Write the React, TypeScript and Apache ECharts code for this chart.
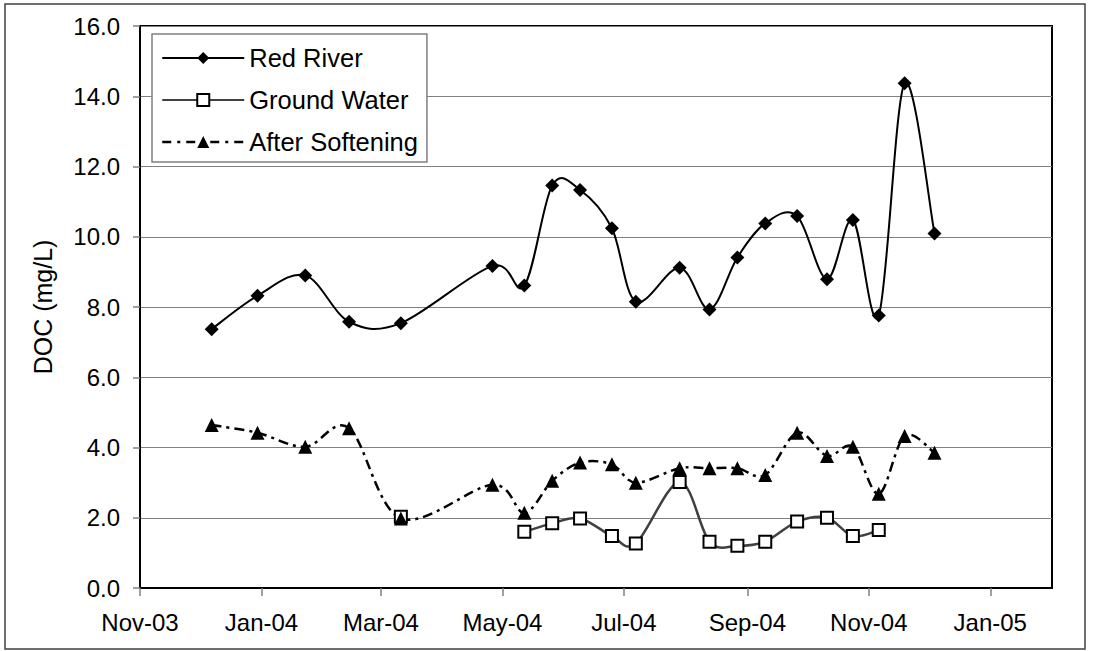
import React, { useEffect, useRef } from "react";
import * as echarts from "echarts";

// Sample dates
const sampleDates = [
  "2003-12-07", "2003-12-30", "2004-01-23", "2004-02-14", "2004-03-11",
  "2004-04-26", "2004-05-12", "2004-05-26", "2004-06-09", "2004-06-25",
  "2004-07-07", "2004-07-29", "2004-08-13", "2004-08-27", "2004-09-10",
  "2004-09-26", "2004-10-11", "2004-10-24", "2004-11-06", "2004-11-19",
  "2004-12-04",
];

const redRiver: (number | null)[] = [
  7.37, 8.32, 8.9, 7.58, 7.54, 9.17, 8.61, 11.46, 11.33, 10.24,
  8.15, 9.12, 7.93, 9.41, 10.38, 10.59, 8.79, 10.48, 7.76, 14.37, 10.09,
];

const groundWater: (number | null)[] = [
  null, null, null, null, 2.03, null, 1.6, 1.84, 1.98, 1.48,
  1.27, 3.02, 1.32, 1.2, 1.32, 1.89, 2.0, 1.48, 1.65, null, null,
];

const afterSoftening: (number | null)[] = [
  4.64, 4.42, 4.02, 4.55, 1.98, 2.94, 2.14, 3.05, 3.57, 3.52,
  3.0, 3.41, 3.41, 3.41, 3.22, 4.42, 3.76, 4.02, 2.68, 4.33, 3.85,
];

const xTickDates = [
  "2003-11-01", "2004-01-01", "2004-03-01", "2004-05-01",
  "2004-07-01", "2004-09-01", "2004-11-01", "2005-01-01",
];
const xMinDate = "2003-11-01";
const xMaxDate = "2005-02-01";

const yTicks = [0, 2, 4, 6, 8, 10, 12, 14, 16];

const monthNames = ["Jan", "Feb", "Mar", "Apr", "May", "Jun", "Jul", "Aug", "Sep", "Oct", "Nov", "Dec"];

const ts = (s: string) => {
  const [y, m, d] = s.split("-").map(Number);
  return Date.UTC(y, m - 1, d);
};

const FONT = "'Liberation Sans', Arial, sans-serif";

type Pt = [number, number];

// Excel-like smoothed curve (Catmull-Rom bezier) through pixel points, split at gaps
function smoothPath(runs: Pt[][]): string {
  let d = "";
  for (const p of runs) {
    if (p.length < 2) continue;
    d += `M${p[0][0]},${p[0][1]}`;
    for (let i = 0; i < p.length - 1; i++) {
      const p0 = p[i - 1] || p[i];
      const p1 = p[i];
      const p2 = p[i + 1];
      const p3 = p[i + 2] || p[i + 1];
      const c1x = p1[0] + (p2[0] - p0[0]) / 6;
      const c1y = p1[1] + (p2[1] - p0[1]) / 6;
      const c2x = p2[0] - (p3[0] - p1[0]) / 6;
      const c2y = p2[1] - (p3[1] - p1[1]) / 6;
      d += ` C${c1x},${c1y} ${c2x},${c2y} ${p2[0]},${p2[1]}`;
    }
  }
  return d;
}

export default function App() {
  const ref = useRef<HTMLDivElement>(null);

  useEffect(() => {
    if (!ref.current) return;
    const chart = echarts.init(ref.current, null, { renderer: "svg" });
    const pair = (vals: (number | null)[]) =>
      sampleDates.map((d, i) => [ts(d), vals[i] === null ? null : vals[i]]);
    const validPairs = (vals: (number | null)[]) =>
      sampleDates.map((d, i) => [ts(d), vals[i]]).filter((p) => p[1] !== null);

    const tickVals = xTickDates.map(ts);

    const curveSeries = (
      name: string,
      vals: (number | null)[],
      style: Record<string, unknown>,
      z: number
    ) => ({
      name,
      type: "custom",
      silent: true,
      z,
      data: validPairs(vals),
      renderItem: (params: any, api: any) => {
        if (params.dataIndex !== 0) return null;
        const runs: Pt[][] = [];
        let cur: Pt[] = [];
        sampleDates.forEach((d, i) => {
          const v = vals[i];
          if (v === null) {
            if (cur.length) runs.push(cur);
            cur = [];
          } else {
            const c = api.coord([ts(d), v]);
            cur.push([c[0], c[1]]);
          }
        });
        if (cur.length) runs.push(cur);
        return {
          type: "path",
          shape: { pathData: smoothPath(runs) },
          style: Object.assign({ fill: "none" }, style),
        };
      },
    });

    chart.setOption({
      animation: false,
      backgroundColor: "#fff",
      textStyle: { fontFamily: FONT },
      graphic: [
        {
          type: "rect",
          z: -10,
          shape: { x: 5, y: 4, width: 1080, height: 645 },
          style: { fill: "none", stroke: "#404040", lineWidth: 1.5 },
        },
      ],
      grid: {
        left: 140,
        top: 26,
        width: 912,
        height: 562,
        show: true,
        borderColor: "#000",
        borderWidth: 2,
        backgroundColor: "transparent",
      },
      legend: {
        orient: "vertical",
        left: 152,
        top: 34,
        padding: [10, 9, 6, 9],
        itemWidth: 82,
        itemHeight: 15,
        itemGap: 14,
        backgroundColor: "#fff",
        borderColor: "#808080",
        borderWidth: 1.5,
        textStyle: { fontFamily: FONT, fontSize: 25.5, color: "#000", lineHeight: 28 },
        data: [
          { name: "Red River", lineStyle: { opacity: 1, width: 2, color: "#000", type: "solid" } },
          { name: "Ground Water", lineStyle: { opacity: 1, width: 1.5, color: "#000", type: "solid" } },
          { name: "After Softening", lineStyle: { opacity: 1, width: 2.5, color: "#000", type: [9, 6, 3, 6] } },
        ],
      },
      xAxis: {
        type: "value",
        min: ts(xMinDate),
        max: ts(xMaxDate),
        axisLine: { show: true, lineStyle: { color: "#000", width: 2 } },
        axisTick: {
          show: true,
          inside: false,
          length: 8,
          customValues: tickVals,
          lineStyle: { color: "#808080", width: 1.5 },
        },
        axisLabel: {
          customValues: tickVals,
          margin: 22,
          fontFamily: FONT,
          fontSize: 24,
          color: "#000",
          formatter: (v: number) => {
            const d = new Date(v);
            const yy = String(d.getUTCFullYear() % 100).padStart(2, "0");
            return monthNames[d.getUTCMonth()] + "-" + yy;
          },
        },
        splitLine: { show: false },
      },
      yAxis: {
        type: "value",
        min: yTicks[0],
        max: yTicks[yTicks.length - 1],
        interval: 2,
        name: "DOC (mg/L)",
        nameLocation: "middle",
        nameGap: 85,
        nameTextStyle: { fontFamily: FONT, fontSize: 25, color: "#000" },
        axisLine: { show: true, lineStyle: { color: "#000", width: 2 } },
        axisTick: { show: true, inside: false, length: 7, lineStyle: { color: "#808080", width: 1.5 } },
        axisLabel: {
          margin: 20,
          fontFamily: FONT,
          fontSize: 24,
          color: "#000",
          formatter: (v: number) => v.toFixed(1),
        },
        splitLine: { show: true, lineStyle: { color: "#808080", width: 1.2 } },
      },
      series: [
        curveSeries("Red River curve", redRiver, { stroke: "#000", lineWidth: 2 }, 2),
        curveSeries("Ground Water curve", groundWater, { stroke: "#404040", lineWidth: 2.5 }, 2),
        curveSeries(
          "After Softening curve",
          afterSoftening,
          { stroke: "#000", lineWidth: 2.5, lineDash: [10, 5, 3, 5] },
          2
        ),
        {
          name: "Red River",
          type: "line",
          data: pair(redRiver),
          symbol: "diamond",
          symbolSize: 14,
          lineStyle: { color: "#000", width: 2, opacity: 0 },
          itemStyle: { color: "#000" },
          z: 3,
        },
        {
          name: "Ground Water",
          type: "line",
          data: pair(groundWater),
          connectNulls: false,
          symbol: "rect",
          symbolSize: 12,
          showAllSymbol: true,
          lineStyle: { color: "#404040", width: 2.5, opacity: 0 },
          itemStyle: { color: "#fff", borderColor: "#000", borderWidth: 2 },
          z: 4,
        },
        {
          name: "After Softening",
          type: "line",
          data: pair(afterSoftening),
          symbol: "triangle",
          symbolSize: 14,
          lineStyle: { color: "#000", width: 2.5, type: [10, 5, 3, 5], opacity: 0 },
          itemStyle: { color: "#000" },
          z: 5,
        },
      ],
    });
    return () => chart.dispose();
  }, []);

  return (
    <div
      ref={ref}
      style={{ position: "fixed", left: 0, top: 0, width: 1100, height: 651, background: "#fff" }}
    />
  );
}
